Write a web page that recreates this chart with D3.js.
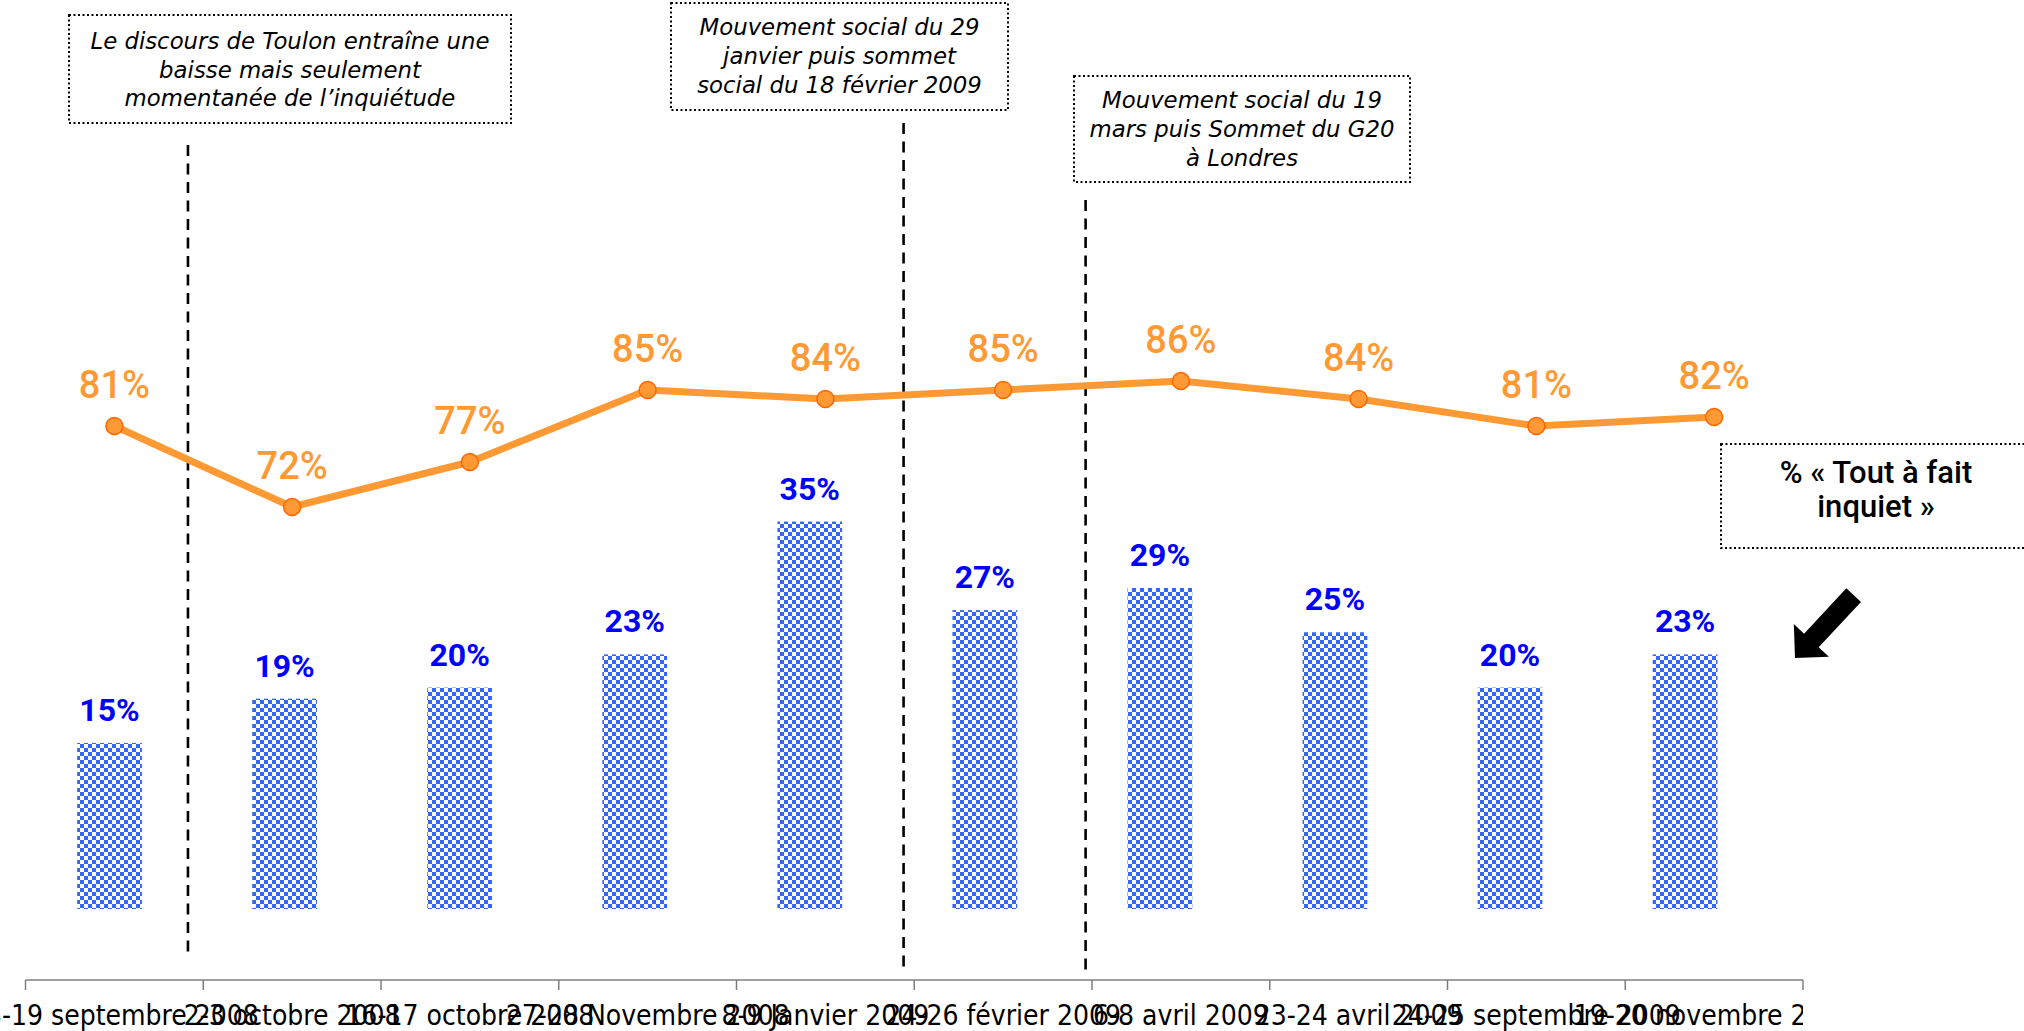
<!DOCTYPE html>
<html>
<head>
<meta charset="utf-8">
<script src="https://cdn.jsdelivr.net/npm/d3@7"></script>
<style>
  html, body { margin: 0; padding: 0; background: #fff; }
  svg { display: block; }
</style>
</head>
<body>
<svg id="chart" width="2024" height="1031"></svg>
<script>
// ---------- DATA ----------
const categories = [
  "18-19 septembre 2008", "2-3 octobre 2008", "16-17 octobre 2008",
  "27-28 Novembre 2008", "8-9 Janvier 2009", "24-26 février 2009",
  "6-8 avril 2009", "23-24 avril 2009", "24-25 septembre 2009",
  "19-20 novembre 2009"
];
const inquietTotal = [81, 72, 77, 85, 84, 85, 86, 84, 81, 82];      // line (%)
const toutAFaitInquiet = [15, 19, 20, 23, 35, 27, 29, 25, 20, 23];  // bars (%)

const annotationTexts = [
  ["Le discours de Toulon entraîne une", "baisse mais seulement", "momentanée de l\u2019inquiétude"],
  ["Mouvement social du 29", "janvier puis sommet", "social du 18 février 2009"],
  ["Mouvement social du 19", "mars puis Sommet du G20", "à Londres"]
];
const legendText = ["% « Tout à fait", "inquiet »"];

// ---------- LAYOUT ----------
const svg = d3.select("#chart");
const W = 2024, H = 1031;

const xAxisScale = d3.scaleBand().domain(categories).range([25.5, 1803]);
const xBar = d3.scaleBand().domain(categories).range([22, 1772.6])
  .paddingInner(0.63).paddingOuter(0.315);
const yLine = d3.scaleLinear().domain([70, 90]).range([525, 345]);
const yBar = d3.scaleLinear().domain([0, 40]).range([909, 466.2]);
const axisY = 980;

// pattern
const defs = svg.append("defs");
const pat = defs.append("pattern").attr("id", "checker")
  .attr("patternUnits", "userSpaceOnUse").attr("width", 8).attr("height", 8);
pat.append("rect").attr("width", 8).attr("height", 8).attr("fill", "#ffffff");
pat.append("rect").attr("x", 0).attr("y", 0).attr("width", 4).attr("height", 4).attr("fill", "#3366ff");
pat.append("rect").attr("x", 4).attr("y", 4).attr("width", 4).attr("height", 4).attr("fill", "#3366ff");

defs.append("clipPath").attr("id", "labelClip")
  .append("rect").attr("x", -100).attr("y", 0).attr("width", 1803 + 100).attr("height", H);

// ---------- BARS ----------
const barData = categories.map((c, i) => ({ c, v: toutAFaitInquiet[i] }));
svg.append("g").selectAll("rect").data(barData).join("rect")
  .attr("x", d => xBar(d.c))
  .attr("y", d => yBar(d.v))
  .attr("width", xBar.bandwidth())
  .attr("height", d => yBar(0) - yBar(d.v))
  .attr("fill", "url(#checker)");

svg.append("g").selectAll("text").data(barData).join("text")
  .attr("x", d => xBar(d.c) + xBar.bandwidth() / 2)
  .attr("y", d => yBar(d.v) - 22)
  .attr("text-anchor", "middle")
  .attr("font-family", "Roboto, 'DejaVu Sans', sans-serif")
  .attr("font-weight", 700)
  .attr("font-size", 32)
  .attr("fill", "#0000ff")
  .text(d => d.v + "%");

// ---------- DASHED EVENT LINES ----------
const eventLines = [
  { after: 0, f: 0.414, y1: 145, y2: 958 },
  { after: 4, f: 0.44, y1: 123, y2: 971 },
  { after: 5, f: 0.464, y1: 200, y2: 977 }
];
svg.append("g").selectAll("line").data(eventLines).join("line")
  .attr("x1", d => xAxisScale(categories[d.after]) + xAxisScale.bandwidth() * (0.5 + d.f))
  .attr("x2", d => xAxisScale(categories[d.after]) + xAxisScale.bandwidth() * (0.5 + d.f))
  .attr("y1", d => d.y1).attr("y2", d => d.y2)
  .attr("stroke", "#000").attr("stroke-width", 2.6)
  .attr("stroke-dasharray", "11,7.5");

// ---------- LINE ----------
const lineData = categories.map((c, i) => ({ c, v: inquietTotal[i] }));
const cx = d => xAxisScale(d.c) + xAxisScale.bandwidth() / 2;
svg.append("path").datum(lineData)
  .attr("d", d3.line().x(cx).y(d => yLine(d.v)))
  .attr("fill", "none").attr("stroke", "#ff9933").attr("stroke-width", 7)
  .attr("stroke-linejoin", "round");
svg.append("g").selectAll("circle").data(lineData).join("circle")
  .attr("cx", cx).attr("cy", d => yLine(d.v)).attr("r", 8.5)
  .attr("fill", "#ff9933").attr("stroke", "#ff6600").attr("stroke-width", 1.5);
svg.append("g").selectAll("text").data(lineData).join("text")
  .attr("x", cx).attr("y", d => yLine(d.v) - 28)
  .attr("text-anchor", "middle")
  .attr("font-family", "Roboto, 'DejaVu Sans', sans-serif")
  .attr("font-weight", 500)
  .attr("font-size", 38)
  .attr("fill", "#ff9933")
  .text(d => d.v + "%");

// ---------- AXIS ----------
const axisG = svg.append("g").attr("transform", `translate(0,${axisY})`);
axisG.append("line").attr("x1", xAxisScale.range()[0]).attr("x2", xAxisScale.range()[1])
  .attr("y1", 0).attr("y2", 0).attr("stroke", "#7f7f7f").attr("stroke-width", 1.5);
const boundaries = categories.map(c => xAxisScale(c)).concat([xAxisScale.range()[1]]);
axisG.append("g").selectAll("line").data(boundaries).join("line")
  .attr("x1", d => d).attr("x2", d => d).attr("y1", 0).attr("y2", 10)
  .attr("stroke", "#7f7f7f").attr("stroke-width", 1.5);
axisG.append("g").attr("clip-path", "url(#labelClip)")
  .attr("transform", `translate(0,${-axisY})`)
  .selectAll("text").data(categories).join("text")
  .attr("x", c => xAxisScale(c) + xAxisScale.bandwidth() / 2)
  .attr("y", axisY + 45)
  .attr("text-anchor", "middle")
  .attr("font-family", "'Liberation Sans Narrow', 'DejaVu Sans Condensed', sans-serif")
  .attr("font-size", 28)
  .attr("fill", "#000")
  .text(c => c);

// ---------- ANNOTATION BOXES ----------
const boxes = [
  { x: 69, y: 15, w: 442, h: 108, lines: annotationTexts[0], ly: [49, 78, 106] },
  { x: 671, y: 3, w: 337, h: 107, lines: annotationTexts[1], ly: [35, 64, 93] },
  { x: 1074, y: 76, w: 336, h: 106, lines: annotationTexts[2], ly: [108, 137, 166] }
];
const bg = svg.append("g").selectAll("g").data(boxes).join("g");
bg.append("rect").attr("x", d => d.x).attr("y", d => d.y)
  .attr("width", d => d.w).attr("height", d => d.h)
  .attr("fill", "#fff").attr("stroke", "#000").attr("stroke-width", 2)
  .attr("stroke-dasharray", "2,2.5");
bg.each(function(d) {
  d3.select(this).selectAll("text").data(d.lines).join("text")
    .attr("x", d.x + d.w / 2)
    .attr("y", (t, i) => d.ly[i])
    .attr("text-anchor", "middle")
    .attr("font-family", "'DejaVu Sans', sans-serif")
    .attr("font-style", "italic")
    .attr("font-size", 22.8)
    .attr("fill", "#000")
    .text(t => t);
});

// ---------- LEGEND BOX ----------
const lg = svg.append("g");
lg.append("rect").attr("x", 1721).attr("y", 444).attr("width", 320).attr("height", 104)
  .attr("fill", "#fff").attr("stroke", "#000").attr("stroke-width", 2)
  .attr("stroke-dasharray", "2,2.5");
lg.selectAll("text").data(legendText).join("text")
  .attr("x", 1876).attr("y", (t, i) => 483 + i * 34)
  .attr("text-anchor", "middle")
  .attr("font-family", "Roboto, 'DejaVu Sans', sans-serif")
  .attr("font-weight", 500)
  .attr("font-size", 31)
  .attr("fill", "#000")
  .text(t => t);

// ---------- ARROW ----------
// local frame: tip at origin, pointing along -x; rotated to point down-left
const arrowPts = [[0, 0], [24, -24], [24, -10], [86, -10], [86, 10], [24, 10], [24, 24]];
svg.append("path")
  .attr("d", d3.line()(arrowPts) + "Z")
  .attr("transform", "translate(1795,658) rotate(-47)")
  .attr("fill", "#000");
</script>
</body>
</html>
